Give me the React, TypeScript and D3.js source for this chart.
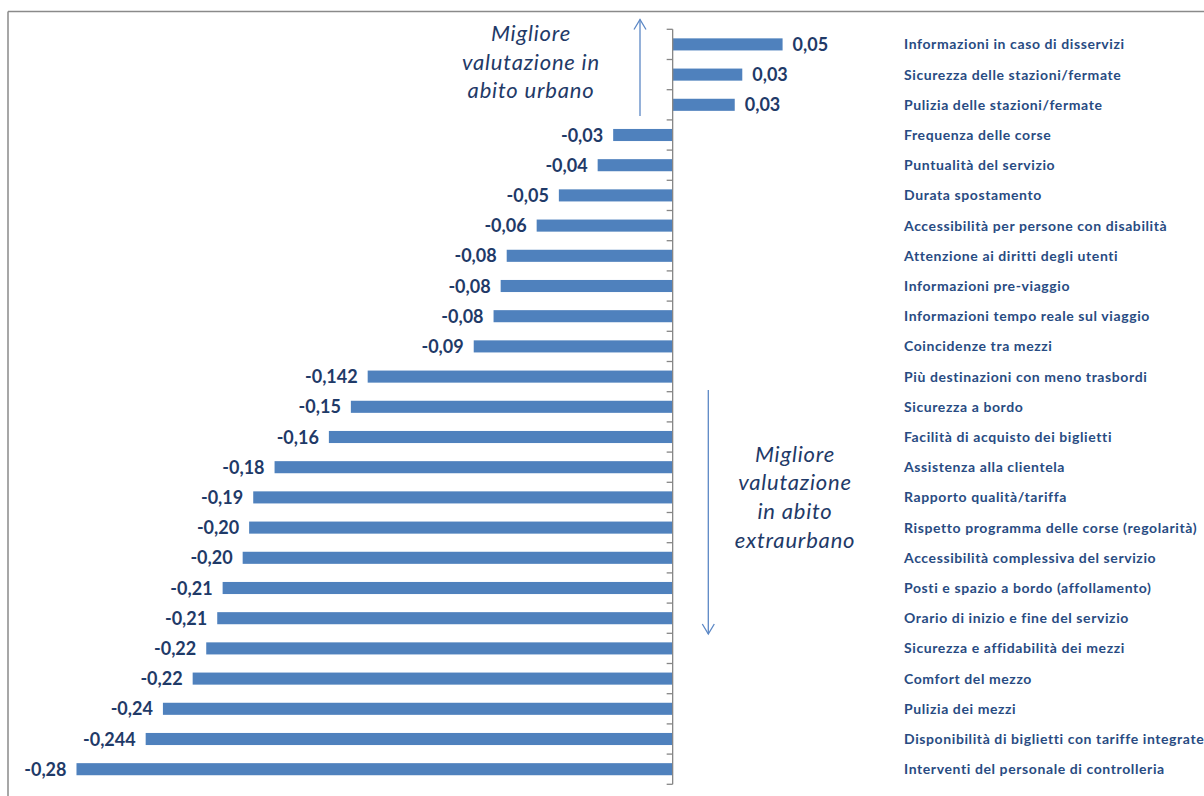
import React from "react";
import * as d3 from "d3";

const categories: string[] = [
  "Informazioni in caso di disservizi",
  "Sicurezza delle stazioni/fermate",
  "Pulizia delle stazioni/fermate",
  "Frequenza delle corse",
  "Puntualità del servizio",
  "Durata spostamento",
  "Accessibilità per persone con disabilità",
  "Attenzione ai diritti degli utenti",
  "Informazioni pre-viaggio",
  "Informazioni tempo reale sul viaggio",
  "Coincidenze tra mezzi",
  "Più destinazioni con meno trasbordi",
  "Sicurezza a bordo",
  "Facilità di acquisto dei biglietti",
  "Assistenza alla clientela",
  "Rapporto qualità/tariffa",
  "Rispetto programma delle corse (regolarità)",
  "Accessibilità complessiva del servizio",
  "Posti e spazio a bordo (affollamento)",
  "Orario di inizio e fine del servizio",
  "Sicurezza e affidabilità dei mezzi",
  "Comfort del mezzo",
  "Pulizia dei mezzi",
  "Disponibilità di biglietti con tariffe integrate",
  "Interventi del personale di controlleria",
];

const values: number[] = [
  0.051, 0.0323, 0.0288, -0.0276, -0.0348, -0.0528, -0.0631, -0.077, -0.0798,
  -0.0831, -0.0923, -0.1415, -0.1493, -0.1595, -0.1847, -0.1946, -0.1965,
  -0.1995, -0.2088, -0.2113, -0.2164, -0.2227, -0.2365, -0.2445, -0.2766,
];

const valueLabels: string[] = [
  "0,05", "0,03", "0,03", "-0,03", "-0,04", "-0,05", "-0,06", "-0,08", "-0,08",
  "-0,08", "-0,09", "-0,142", "-0,15", "-0,16", "-0,18", "-0,19", "-0,20",
  "-0,20", "-0,21", "-0,21", "-0,22", "-0,22", "-0,24", "-0,244", "-0,28",
];

const noteUrban: string[] = ["Migliore", "valutazione in", "abito urbano"];
const noteExtra: string[] = ["Migliore", "valutazione", "in abito", "extraurbano"];

const W = 1204;
const H = 796;
const BAR = "#4F81BD";
const DARK = "#1F3A68";
const LABEL = "#284B82";
const GRID = "#868686";
const FONT = "Lato, 'Open Sans', sans-serif";

export default function App() {
  const x = d3.scaleLinear().domain([-0.3, 0.1]).range([26.05, 888.2]);
  const y = d3
    .scaleBand<string>()
    .domain(categories)
    .range([29.3, 784.3])
    .paddingInner(0.6)
    .paddingOuter(0.3);
  const x0 = x(0);
  const step = y.step();
  const top = y.range()[0];
  const bottom = y.range()[1];
  const bw = y.bandwidth();

  return (
    <svg
      width={W}
      height={H}
      style={{ position: "fixed", left: 0, top: 0, background: "#fff" }}
    >
      {/* frame */}
      <line x1={8} y1={11.5} x2={W} y2={11.5} stroke="#8a8a8a" strokeWidth={1.5} />
      <line x1={8} y1={11.5} x2={8} y2={H} stroke="#8a8a8a" strokeWidth={1.5} />

      {/* bars */}
      {categories.map((c, i) => {
        const v = values[i];
        const yy = y(c)!;
        const xs = Math.min(x(v), x0);
        const w = Math.abs(x(v) - x0);
        return <rect key={c} x={xs} y={yy} width={w} height={bw} fill={BAR} />;
      })}

      {/* axis */}
      <line x1={x0} y1={top} x2={x0} y2={bottom} stroke={GRID} strokeWidth={1.3} />
      {d3.range(categories.length + 1).map((k) => (
        <line
          key={k}
          x1={x0 - 6}
          x2={x0}
          y1={top + k * step}
          y2={top + k * step}
          stroke={GRID}
          strokeWidth={1.3}
        />
      ))}

      {/* value labels */}
      {categories.map((c, i) => {
        const v = values[i];
        const cy = y(c)! + bw / 2;
        const pos = v >= 0;
        return (
          <text
            key={c}
            x={pos ? x(v) + 10 : x(v) - 10}
            y={cy + 6.5}
            textAnchor={pos ? "start" : "end"}
            fontFamily={FONT}
            fontWeight={700}
            fontSize={18}
            fill={DARK}
          >
            {valueLabels[i]}
          </text>
        );
      })}

      {/* category labels */}
      {categories.map((c) => (
        <text
          key={c}
          x={904}
          y={y(c)! + bw / 2 + 5}
          fontFamily={FONT}
          fontWeight={700}
          fontSize={14}
          letterSpacing={0.6}
          fill={LABEL}
        >
          {c}
        </text>
      ))}

      {/* annotations */}
      <g stroke="#5B87C5" strokeWidth={1.3} fill="none">
        <line x1={640} y1={116} x2={640} y2={19.5} />
        <polyline points="634,29.5 640,19.5 646,29.5" />
        <line x1={708.3} y1={390} x2={708.3} y2={634} />
        <polyline points="702.3,624 708.3,634 714.3,624" />
      </g>
      {noteUrban.map((t, i) => (
        <text
          key={"u" + i}
          x={531}
          y={41 + i * 28.7}
          textAnchor="middle"
          fontFamily={FONT}
          fontStyle="italic"
          fontSize={22}
          letterSpacing={0.8}
          fill={DARK}
        >
          {t}
        </text>
      ))}
      {noteExtra.map((t, i) => (
        <text
          key={"e" + i}
          x={795}
          y={461.5 + i * 28.7}
          textAnchor="middle"
          fontFamily={FONT}
          fontStyle="italic"
          fontSize={22}
          letterSpacing={0.8}
          fill={DARK}
        >
          {t}
        </text>
      ))}
    </svg>
  );
}
